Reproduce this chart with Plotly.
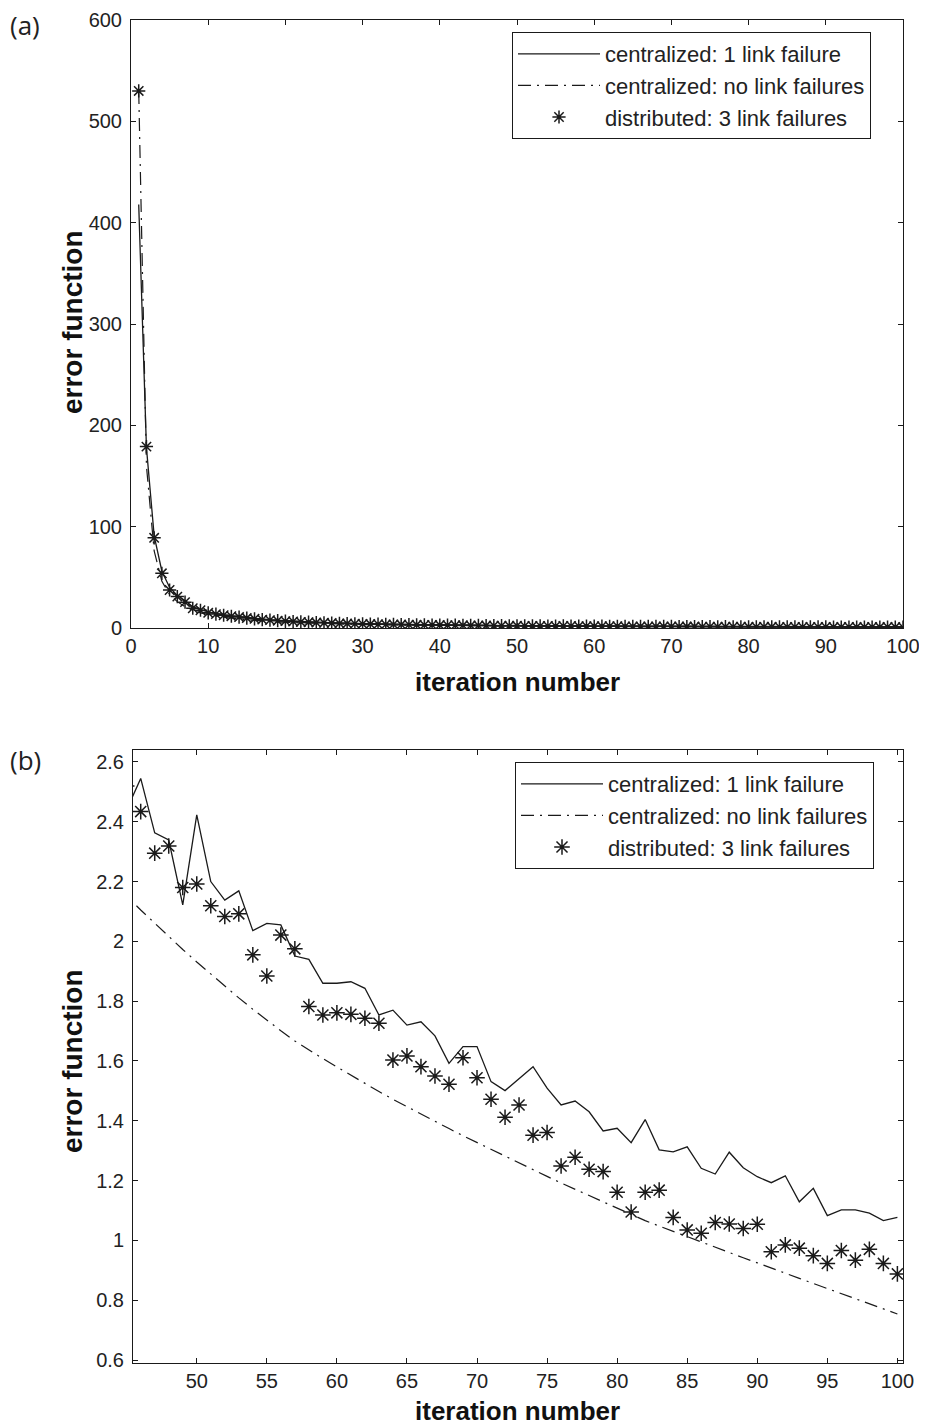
import plotly.graph_objects as go

iterations = list(range(1, 101))

centralized_1_failure = [
    418, 178, 91, 56, 40, 32, 27, 21, 18, 16,
    14.3, 13, 12, 11, 10.2, 9.4, 8.7, 8.1, 7.6, 7.1,
    6.7, 6.3, 6.0, 5.7, 5.4, 5.15, 4.9, 4.7, 4.5, 4.3,
    4.15, 3.98, 3.84, 3.7, 3.58, 3.46, 3.35, 3.25, 3.15, 3.05,
    2.95, 2.87, 2.78, 2.62, 2.44, 2.545, 2.363, 2.339, 2.122, 2.423,
    2.200, 2.138, 2.169, 2.036, 2.060, 2.055, 1.951, 1.940, 1.860, 1.860,
    1.865, 1.843, 1.754, 1.770, 1.720, 1.731, 1.684, 1.592, 1.648, 1.648,
    1.531, 1.501, 1.540, 1.581, 1.509, 1.453, 1.466, 1.430, 1.366, 1.375,
    1.327, 1.404, 1.303, 1.296, 1.313, 1.241, 1.222, 1.295, 1.243, 1.213,
    1.193, 1.216, 1.129, 1.174, 1.083, 1.102, 1.102, 1.091, 1.066, 1.077,
]

centralized_no_failure = [
    530, 160, 76, 46, 33, 26, 21, 17.5, 15, 13.2,
    11.8, 10.6, 9.6, 8.8, 8.1, 7.5, 6.9, 6.4, 6.0, 5.6,
    5.3, 5.0, 4.7, 4.45, 4.22, 4.0, 3.82, 3.65, 3.5, 3.35,
    3.22, 3.1, 2.99, 2.88, 2.79, 2.7, 2.62, 2.55, 2.48, 2.42,
    2.36, 2.3, 2.25, 2.2, 2.152, 2.105, 2.060, 2.016, 1.973, 1.931,
    1.890, 1.850, 1.811, 1.773, 1.736, 1.701, 1.667, 1.637, 1.608, 1.580,
    1.552, 1.525, 1.498, 1.472, 1.447, 1.422, 1.398, 1.374, 1.350, 1.327,
    1.304, 1.281, 1.258, 1.236, 1.214, 1.192, 1.171, 1.150, 1.128, 1.107,
    1.086, 1.066, 1.048, 1.030, 1.012, 0.994, 0.976, 0.959, 0.942, 0.925,
    0.907, 0.890, 0.873, 0.856, 0.839, 0.822, 0.805, 0.788, 0.771, 0.754,
]

distributed_3_failures = [
    530, 179, 89, 54, 37.5, 31, 25.5, 19.5, 17.5, 15,
    13.7, 12.6, 11.6, 10.8, 9.8, 9.1, 8.3, 7.8, 7.2, 6.8,
    6.4, 6.0, 5.7, 5.4, 5.1, 4.9, 4.6, 4.4, 4.2, 4.05,
    3.9, 3.75, 3.6, 3.5, 3.38, 3.27, 3.15, 3.07, 2.97, 2.9,
    2.82, 2.74, 2.66, 2.6, 2.52, 2.434, 2.295, 2.319, 2.180, 2.192,
    2.119, 2.083, 2.092, 1.955, 1.884, 2.021, 1.975, 1.782, 1.754, 1.761,
    1.756, 1.743, 1.726, 1.603, 1.617, 1.581, 1.550, 1.522, 1.611, 1.544,
    1.472, 1.412, 1.453, 1.352, 1.361, 1.249, 1.278, 1.238, 1.230, 1.161,
    1.095, 1.161, 1.168, 1.077, 1.035, 1.024, 1.060, 1.055, 1.040, 1.054,
    0.962, 0.985, 0.974, 0.949, 0.923, 0.966, 0.934, 0.970, 0.923, 0.888,
]

names = ["centralized: 1 link failure",
         "centralized: no link failures",
         "distributed: 3 link failures"]
x_title = "iteration number"
y_title = "error function"

# page body has an 8px default margin; work in window pixels minus that offset
OFF = 8
W, H = 927 - OFF, 1428 - OFF
FONT = "Arial"
INK = "#1a1a1a"


def fx(px):
    return (px - OFF) / W


def fy(py):
    return 1 - (py - OFF) / H


fig = go.Figure()


def add_panel(xa, ya, leg, msize):
    fig.add_trace(go.Scatter(x=iterations, y=centralized_1_failure, mode="lines",
                             name=names[0], xaxis=xa, yaxis=ya, legend=leg,
                             legendgroup=leg + "a",
                             line=dict(color=INK, width=1.3)))
    fig.add_trace(go.Scatter(x=iterations, y=centralized_no_failure, mode="lines",
                             name=names[1], xaxis=xa, yaxis=ya, legend=leg,
                             legendgroup=leg + "b",
                             line=dict(color=INK, width=1.2, dash="13px,6px,2px,6px")))
    fig.add_trace(go.Scatter(x=iterations, y=distributed_3_failures, mode="markers",
                             name=names[2], xaxis=xa, yaxis=ya, legend=leg,
                             legendgroup=leg + "c",
                             marker=dict(symbol="asterisk-open", size=msize, color=INK,
                                         line=dict(color=INK, width=1.5))))


add_panel("x", "y", "legend", 11)
add_panel("x2", "y2", "legend2", 13)

axis_common = dict(showline=True, linecolor=INK, linewidth=1, mirror="ticks",
                   ticks="inside", ticklen=5, tickcolor=INK, showgrid=False,
                   zeroline=False, automargin=False, ticklabeloverflow="allow",
                   tickfont=dict(family=FONT, size=20, color="#222"))
title_font = dict(family=FONT, size=26, color="#111")
ytitle_font = dict(family=FONT, size=28, color="#111")

fig.update_layout(
    width=W, height=H,
    margin=dict(l=0, r=0, t=0, b=0),
    paper_bgcolor="white", plot_bgcolor="white",
    xaxis=dict(domain=[fx(131), fx(903)], range=[0, 100], dtick=10, tick0=0, anchor="y",
               **axis_common),
    yaxis=dict(domain=[fy(628), fy(20)], range=[0, 600], dtick=100, anchor="x",
               ticklabelstandoff=4, **axis_common),
    xaxis2=dict(domain=[fx(133), fx(903)], range=[45.45, 100.4], dtick=5, tick0=50,
                anchor="y2", **axis_common),
    yaxis2=dict(domain=[fy(1363), fy(750)], range=[0.59, 2.64], dtick=0.2, tick0=0.6,
                anchor="x2", ticklabelstandoff=4, **axis_common),
    legend=dict(x=fx(512), y=fy(32), xanchor="left", yanchor="top",
                bordercolor=INK, borderwidth=1, bgcolor="white",
                font=dict(family=FONT, size=22, color="#222"),
                itemwidth=82, tracegroupgap=0),
    legend2=dict(x=fx(515), y=fy(762), xanchor="left", yanchor="top",
                 bordercolor=INK, borderwidth=1, bgcolor="white",
                 font=dict(family=FONT, size=22, color="#222"),
                 itemwidth=82, tracegroupgap=0),
    showlegend=True,
)

# axis titles
for cx, cy in [(517, 682), (518, 1411)]:
    fig.add_annotation(text="<b>" + x_title + "</b>", x=fx(cx), y=fy(cy),
                       xref="paper", yref="paper", xanchor="center", yanchor="middle",
                       showarrow=False, font=title_font)
for cx, cy in [(72, 322), (72, 1061)]:
    fig.add_annotation(text="<b>" + y_title + "</b>", x=fx(cx), y=fy(cy), textangle=-90,
                       xref="paper", yref="paper", xanchor="center", yanchor="middle",
                       showarrow=False, font=ytitle_font)

# panel letters
fig.add_annotation(text="(a)", x=0, y=fy(5), xref="paper", yref="paper",
                   xanchor="left", yanchor="top", showarrow=False,
                   font=dict(family="Open Sans, sans-serif", size=26, color="#222"))
fig.add_annotation(text="(b)", x=0, y=fy(740), xref="paper", yref="paper",
                   xanchor="left", yanchor="top", showarrow=False,
                   font=dict(family="Open Sans, sans-serif", size=26, color="#222"))

fig.write_html("out.html")
